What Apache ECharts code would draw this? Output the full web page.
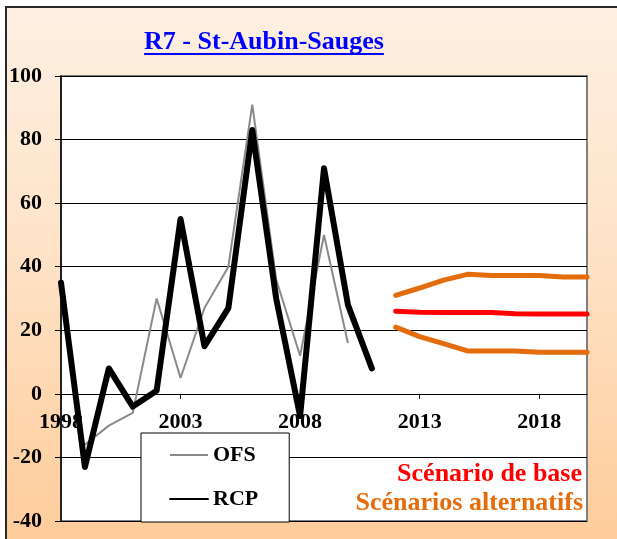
<!DOCTYPE html>
<html>
<head>
<meta charset="utf-8">
<script src="https://cdn.jsdelivr.net/npm/echarts@6/dist/echarts.min.js"></script>
<style>
  html, body { margin: 0; padding: 0; background: #ffffff; overflow: hidden; }
  #chart { width: 617px; height: 539px; }
</style>
</head>
<body>
<div id="chart"></div>
<script>
// Years on the horizontal axis (1998 – 2020)
var years = ['1998','1999','2000','2001','2002','2003','2004','2005','2006','2007','2008',
             '2009','2010','2011','2012','2013','2014','2015','2016','2017','2018','2019','2020'];

// Observed series
var ofs = [null, -16, -10, -6, 30, 5, 27, 40, 91, 36, 12, 50, 16,
           null, null, null, null, null, null, null, null, null, null];
var rcp = [35, -23, 8, -4, 1, 55, 15, 27, 83, 30, -7, 71, 28, 8,
           null, null, null, null, null, null, null, null, null];

// Projections 2012 – 2020
var scenarioBase = [null, null, null, null, null, null, null, null, null, null, null, null, null, null,
                    26, 25.7, 25.6, 25.6, 25.6, 25.2, 25.1, 25.1, 25.1];
var scenarioHigh = [null, null, null, null, null, null, null, null, null, null, null, null, null, null,
                    31, 33.3, 35.8, 37.6, 37.2, 37.2, 37.2, 36.8, 36.8];
var scenarioLow  = [null, null, null, null, null, null, null, null, null, null, null, null, null, null,
                    21, 18, 15.8, 13.5, 13.5, 13.5, 13.1, 13.1, 13.1];

var yMin = -40, yMax = 100, yStep = 20;

var titleText = 'R7 - St-Aubin-Sauges';
var serif = '"Liberation Serif", "Times New Roman", serif';

function textWidth(txt, font) {
  var c = document.createElement('canvas').getContext('2d');
  c.font = font;
  return c.measureText(txt).width;
}

var titleX = 264, titleY = 42;
var titleW = textWidth(titleText, 'bold 26px ' + serif);

var chart = echarts.init(document.getElementById('chart'), null, { renderer: 'canvas' });

var option = {
  backgroundColor: '#ffffff',
  animation: false,
  graphic: [
    {
      type: 'rect', z: -10, silent: true,
      shape: { x: 6, y: 7, width: 640, height: 560 },
      style: {
        fill: new echarts.graphic.LinearGradient(0, 0, 0, 1, [
          { offset: 0, color: '#FDF0E2' },
          { offset: 0.45, color: '#FEE2C6' },
          { offset: 1, color: '#FFCA96' }
        ])
      }
    },
    {
      type: 'polyline', z: -9, silent: true,
      shape: { points: [[6, 560], [6, 7], [640, 7]] },
      style: { stroke: '#2a2a2a', lineWidth: 2, fill: null }
    },
    {
      type: 'text', z: 100,
      x: titleX, y: titleY,
      style: {
        text: titleText, fill: '#0000FF',
        font: 'bold 26px ' + serif,
        textAlign: 'center', textVerticalAlign: 'middle'
      }
    },
    {
      type: 'rect', z: 100,
      shape: { x: titleX - titleW / 2, y: 53, width: titleW, height: 2 },
      style: { fill: '#0000FF' }
    },
    {
      type: 'text', z: 100,
      x: 582, y: 474,
      style: {
        text: 'Scénario de base', fill: '#FF0000',
        font: 'bold 26px ' + serif,
        textAlign: 'right', textVerticalAlign: 'middle'
      }
    },
    {
      type: 'text', z: 100,
      x: 583, y: 503,
      style: {
        text: 'Scénarios alternatifs', fill: '#E46C0A',
        font: 'bold 26px ' + serif,
        textAlign: 'right', textVerticalAlign: 'middle'
      }
    }
  ],
  grid: {
    left: 61, right: 30, top: 76, bottom: 18,
    containLabel: false,
    outerBoundsMode: 'none',
    show: true, backgroundColor: '#ffffff',
    borderColor: '#7f7f7f', borderWidth: 2
  },
  legend: {
    data: ['OFS', 'RCP'],
    orient: 'vertical',
    left: 141, top: 433,
    backgroundColor: '#ffffff',
    borderColor: '#000000', borderWidth: 1,
    padding: [11, 31, 12, 28],
    itemWidth: 38, itemHeight: 22, itemGap: 22,
    itemStyle: { opacity: 0 },
    textStyle: { fontFamily: serif, fontWeight: 'bold', fontSize: 22, color: '#000000' },
    selectedMode: false
  },
  xAxis: {
    type: 'category',
    data: years,
    boundaryGap: false,
    position: 'bottom',
    offset: 0,
    axisLine: { onZero: false, lineStyle: { color: '#000000', width: 1 } },
    axisTick: { interval: 4, inside: false, length: 5, lineStyle: { color: '#000000' } },
    axisLabel: {
      interval: 4, margin: 17,
      fontFamily: serif, fontWeight: 'bold', fontSize: 22, color: '#000000'
    },
    splitLine: { show: false }
  },
  yAxis: {
    type: 'value',
    min: yMin, max: yMax, interval: yStep,
    axisLine: { show: true, onZero: false, lineStyle: { color: '#000000', width: 1.5 } },
    axisTick: { show: true, length: 6, lineStyle: { color: '#000000' } },
    axisLabel: {
      margin: 19,
      fontFamily: serif, fontWeight: 'bold', fontSize: 22, color: '#000000'
    },
    splitLine: { show: true, lineStyle: { color: '#000000', width: 1 } }
  },
  series: [
    {
      name: 'OFS', type: 'line', data: ofs,
      symbol: 'none',
      lineStyle: { color: '#8a8a8a', width: 2 },
      itemStyle: { color: '#8a8a8a' }, z: 3
    },
    {
      name: 'RCP', type: 'line', data: rcp,
      symbol: 'none',
      lineStyle: { color: '#000000', width: 6, join: 'round', cap: 'round' },
      itemStyle: { color: '#000000' }, z: 4
    },
    {
      name: 'Scénarios alternatifs (haut)', type: 'line', data: scenarioHigh,
      symbol: 'none',
      lineStyle: { color: '#E46C0A', width: 5, join: 'round', cap: 'round' }, z: 3
    },
    {
      name: 'Scénario de base', type: 'line', data: scenarioBase,
      symbol: 'none',
      lineStyle: { color: '#FF0000', width: 5, join: 'round', cap: 'round' }, z: 3
    },
    {
      name: 'Scénarios alternatifs (bas)', type: 'line', data: scenarioLow,
      symbol: 'none',
      lineStyle: { color: '#E46C0A', width: 5, join: 'round', cap: 'round' }, z: 3
    }
  ]
};

chart.setOption(option);

// Lift the category axis so that it crosses the value axis at zero
var yZero = chart.convertToPixel({ yAxisIndex: 0 }, 0);
var yBottom = chart.convertToPixel({ yAxisIndex: 0 }, yMin);
chart.setOption({ xAxis: { offset: -(yBottom - yZero) } });
</script>
</body>
</html>
